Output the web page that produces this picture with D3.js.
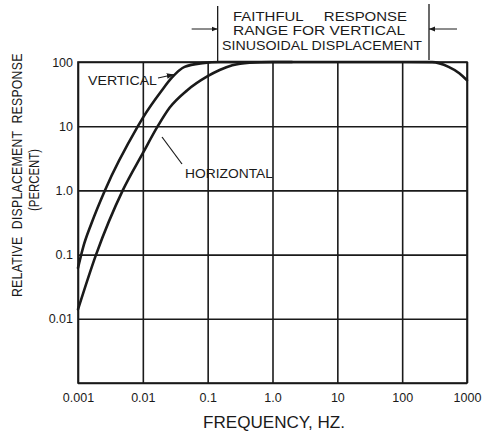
<!DOCTYPE html>
<html>
<head>
<meta charset="utf-8">
<script src="https://cdn.jsdelivr.net/npm/d3@7"></script>
<style>
  html, body { margin: 0; padding: 0; background: #fff; }
  svg { display: block; }
  text { font-family: "Liberation Sans", Arial, sans-serif; fill: #1a1a1a; }
</style>
</head>
<body>
<div id="chart"></div>
<script>
// ---- data ----
const xTicks = [0.001, 0.01, 0.1, 1, 10, 100, 1000];
const xTickLabels = ["0.001", "0.01", "0.1", "1.0", "10", "100", "1000"];
const yTicks = [0.001, 0.01, 0.1, 1, 10, 100];
const yTickLabels = ["", "0.01", "0.1", "1.0", "10", "100"];

const verticalFreq = [0.001, 0.0012, 0.0016, 0.0026, 0.0084, 0.01, 0.0196, 0.028, 0.044, 0.083, 0.16, 1, 10, 100, 290, 520, 760, 1000];
const verticalResp = [0.062, 0.13, 0.3, 1.0, 10, 13.5, 36, 57, 84, 96, 100, 100, 100, 100, 99.5, 84, 67, 52];

const horizontalFreq = [0.001, 0.0019, 0.0049, 0.01, 0.017, 0.026, 0.048, 0.1, 0.153, 0.24, 0.44, 1.0, 2.0];
const horizontalResp = [0.014, 0.1, 1.0, 3.8, 10, 19.5, 36, 60, 75, 89, 97.5, 100, 100];

const xTitle = "FREQUENCY, HZ.";
const yTitle = "RELATIVE  DISPLACEMENT  RESPONSE";
const yTitle2 = "(PERCENT)";
const rangeLines = ["FAITHFUL     RESPONSE", "RANGE FOR VERTICAL", "SINUSOIDAL DISPLACEMENT"];

// ---- layout ----
const W = 487, H = 435;
const L = 78, R = 467, T = 62, B = 383;
const ink = "#1a1a1a";

const svg = d3.select("#chart").append("svg").attr("width", W).attr("height", H);
svg.append("rect").attr("width", W).attr("height", H).attr("fill", "#fff");

const defs = svg.append("defs");
defs.append("marker").attr("id", "arr").attr("viewBox", "0 0 10 10")
  .attr("refX", 10).attr("refY", 5).attr("markerWidth", 6).attr("markerHeight", 6)
  .attr("orient", "auto")
  .append("path").attr("d", "M0,1 L10,5 L0,9 Z").attr("fill", ink);

const x = d3.scaleLog().domain([0.001, 1000]).range([L, R]);
const y = d3.scaleLog().domain([0.001, 100]).range([B, T]);

// grid + axes
const gx = svg.append("g").attr("transform", `translate(0,${B})`)
  .call(d3.axisBottom(x).tickValues(xTicks).tickSize(-(B - T)).tickPadding(10)
    .tickFormat((d, i) => xTickLabels[i]));
const gy = svg.append("g").attr("transform", `translate(${L},0)`)
  .call(d3.axisLeft(y).tickValues(yTicks).tickSize(-(R - L)).tickPadding(5)
    .tickFormat((d, i) => yTickLabels[i]));
[gx, gy].forEach(g => {
  g.select(".domain").remove();
  g.selectAll(".tick line").attr("stroke", ink).attr("stroke-width", 1.6);
  g.selectAll(".tick text").attr("font-size", 12.5).attr("fill", "#333")
    .style("font-family", "'Liberation Sans', Arial, sans-serif");
});
svg.append("rect").attr("x", L).attr("y", T).attr("width", R - L).attr("height", B - T)
  .attr("fill", "none").attr("stroke", ink).attr("stroke-width", 1.6);

// curves
const line = d3.line().x(d => x(d[0])).y(d => y(d[1])).curve(d3.curveMonotoneX);
const vData = verticalFreq.map((f, i) => [f, verticalResp[i]]);
const hData = horizontalFreq.map((f, i) => [f, horizontalResp[i]]);
[vData, hData].forEach(dat => {
  svg.append("path").datum(dat).attr("d", line)
    .attr("fill", "none").attr("stroke", ink).attr("stroke-width", 2.6)
    .attr("stroke-linejoin", "round").attr("stroke-linecap", "round");
});

// curve labels
svg.append("text").attr("x", 88).attr("y", 85).attr("font-size", 13)
  .attr("textLength", 69).attr("lengthAdjust", "spacingAndGlyphs").text("VERTICAL");
svg.append("line").attr("x1", 158).attr("y1", 78).attr("x2", 174).attr("y2", 74.5)
  .attr("stroke", ink).attr("stroke-width", 1.2).attr("marker-end", "url(#arr)");

svg.append("text").attr("x", 185).attr("y", 178).attr("font-size", 13)
  .attr("textLength", 88).attr("lengthAdjust", "spacingAndGlyphs").text("HORIZONTAL");
svg.append("line").attr("x1", 182).attr("y1", 164).attr("x2", 162).attr("y2", 137)
  .attr("stroke", ink).attr("stroke-width", 1.2);

// faithful response bracket
const bx1 = x(0.1) + 10, bx2 = x(1000) - 38;
svg.append("line").attr("x1", bx1).attr("x2", bx1).attr("y1", 6).attr("y2", T)
  .attr("stroke", ink).attr("stroke-width", 1.3);
svg.append("line").attr("x1", bx2).attr("x2", bx2).attr("y1", 4).attr("y2", T - 2)
  .attr("stroke", ink).attr("stroke-width", 1.3);
svg.append("line").attr("x1", bx1 - 26).attr("x2", bx1).attr("y1", 29).attr("y2", 29)
  .attr("stroke", ink).attr("stroke-width", 1).attr("marker-end", "url(#arr)");
svg.append("line").attr("x1", bx2 + 28).attr("x2", bx2).attr("y1", 29).attr("y2", 29)
  .attr("stroke", ink).attr("stroke-width", 1).attr("marker-end", "url(#arr)");
const rangeY = [21, 35, 50];
const rangeSpan = [[233, 407], [233, 405], [222, 422]];
rangeLines.forEach((s, i) => {
  svg.append("text").attr("x", rangeSpan[i][0]).attr("y", rangeY[i])
    .attr("font-size", 13.5).attr("textLength", rangeSpan[i][1] - rangeSpan[i][0])
    .attr("lengthAdjust", "spacingAndGlyphs").style("white-space", "pre").text(s);
});

// axis titles
svg.append("text").attr("x", 203).attr("y", 428).attr("font-size", 16)
  .attr("textLength", 142).attr("lengthAdjust", "spacingAndGlyphs").text(xTitle);
svg.append("text").attr("transform", "translate(22,297) rotate(-90) scale(0.79,1)")
  .attr("font-size", 15.5).attr("letter-spacing", 0.35).style("white-space", "pre").text(yTitle);
svg.append("text").attr("transform", "translate(39,211) rotate(-90)")
  .attr("font-size", 14).attr("textLength", 62).attr("lengthAdjust", "spacingAndGlyphs")
  .text(yTitle2);
</script>
</body>
</html>
